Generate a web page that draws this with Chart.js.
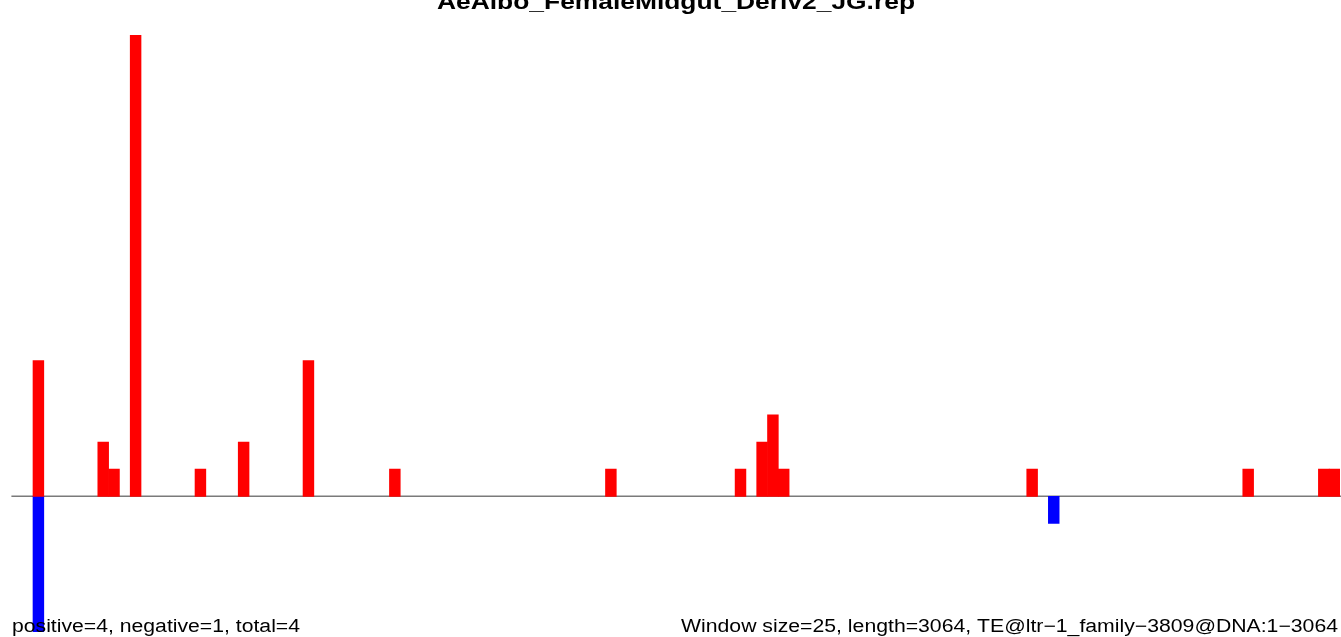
<!DOCTYPE html>
<html>
<head>
<meta charset="utf-8">
<script src="https://cdn.jsdelivr.net/npm/chart.js@4/dist/chart.umd.min.js"></script>
<style>
  html, body { margin: 0; padding: 0; background: #fff; }
  canvas { display: block; }
</style>
</head>
<body>
<canvas id="rep-chart" width="1341" height="637"></canvas>
<script>
// windows of 25 bp along a 3064 bp element
var windowSize = 25;
var seqLength = 3064;
var windowStarts = [];
for (var i = 0; i * windowSize < seqLength; i++) { windowStarts.push(i * windowSize + 1); }

// read counts per window (sense strand up, antisense strand down)
var positive = [
  0, 0, 5, 0, 0, 0, 0, 0, 2, 1,
  0, 17, 0, 0, 0, 0, 0, 1, 0, 0,
  0, 2, 0, 0, 0, 0, 0, 5, 0, 0,
  0, 0, 0, 0, 0, 1, 0, 0, 0, 0,
  0, 0, 0, 0, 0, 0, 0, 0, 0, 0,
  0, 0, 0, 0, 0, 1, 0, 0, 0, 0,
  0, 0, 0, 0, 0, 0, 0, 1, 0, 2,
  3, 1, 0, 0, 0, 0, 0, 0, 0, 0,
  0, 0, 0, 0, 0, 0, 0, 0, 0, 0,
  0, 0, 0, 0, 1, 0, 0, 0, 0, 0,
  0, 0, 0, 0, 0, 0, 0, 0, 0, 0,
  0, 0, 0, 0, 1, 0, 0, 0, 0, 0,
  0, 1, 1
];
var negative = [
  0, 0, -5, 0, 0, 0, 0, 0, 0, 0,
  0, 0, 0, 0, 0, 0, 0, 0, 0, 0,
  0, 0, 0, 0, 0, 0, 0, 0, 0, 0,
  0, 0, 0, 0, 0, 0, 0, 0, 0, 0,
  0, 0, 0, 0, 0, 0, 0, 0, 0, 0,
  0, 0, 0, 0, 0, 0, 0, 0, 0, 0,
  0, 0, 0, 0, 0, 0, 0, 0, 0, 0,
  0, 0, 0, 0, 0, 0, 0, 0, 0, 0,
  0, 0, 0, 0, 0, 0, 0, 0, 0, 0,
  0, 0, 0, 0, 0, 0, -1, 0, 0, 0,
  0, 0, 0, 0, 0, 0, 0, 0, 0, 0,
  0, 0, 0, 0, 0, 0, 0, 0, 0, 0,
  0, 0, 0
];

var titleText = "AeAlbo_FemaleMidgut_Deriv2_JG.rep";
var leftNote = "positive=4, negative=1, total=4";
var rightNote = "Window size=25, length=3064, TE@ltr\u22121_family\u22123809@DNA:1\u22123064";

// empty windows are left out so no zero-height sliver is drawn
function skipEmpty(arr) {
  return arr.map(function (v) { return v === 0 ? null : v; });
}

// draw a text stretched horizontally to fill a given width
function stretchText(ctx, txt, font, x0, x1, y) {
  ctx.save();
  ctx.font = font;
  var w = ctx.measureText(txt).width;
  ctx.translate(x0, y);
  ctx.scale((x1 - x0) / w, 1);
  ctx.textAlign = "left";
  ctx.textBaseline = "alphabetic";
  ctx.fillStyle = "#000";
  ctx.fillText(txt, 0, 0);
  ctx.restore();
}

var zeroLine = {
  id: "zeroLine",
  beforeDatasetsDraw: function (chart) {
    var ctx = chart.ctx;
    var y = chart.scales.y.getPixelForValue(0);
    ctx.save();
    ctx.strokeStyle = "#7a7a7a";
    ctx.lineWidth = 1.4;
    ctx.beginPath();
    ctx.moveTo(chart.chartArea.left, y);
    ctx.lineTo(chart.chartArea.right + 1, y);
    ctx.stroke();
    ctx.restore();
  }
};

var labels = {
  id: "labels",
  afterDraw: function (chart) {
    var ctx = chart.ctx;
    stretchText(ctx, titleText, "bold 22px 'Liberation Sans', Arial, sans-serif", 437, 915, 9);
    stretchText(ctx, leftNote, "18px 'Liberation Sans', Arial, sans-serif", 12, 300, 632);
    stretchText(ctx, rightNote, "18px 'Liberation Sans', Arial, sans-serif", 681, 1338, 632);
  }
};

var ctx = document.getElementById("rep-chart");

var repChart = new Chart(ctx, {
  type: "bar",
  data: {
    labels: windowStarts,
    datasets: [
      {
        label: "positive",
        data: skipEmpty(positive),
        backgroundColor: "#ff0000",
        borderWidth: 0,
        barPercentage: 1,
        categoryPercentage: 1
      },
      {
        label: "negative",
        data: skipEmpty(negative),
        backgroundColor: "#0000ff",
        borderWidth: 0,
        barPercentage: 1,
        categoryPercentage: 1
      }
    ]
  },
  options: {
    responsive: false,
    animation: false,
    devicePixelRatio: 1,
    layout: { padding: { left: 11.4, right: 1, top: 35, bottom: 5 } },
    plugins: {
      legend: { display: false },
      tooltip: { enabled: false },
      title: { display: false }
    },
    scales: {
      x: { stacked: true, display: false },
      y: { stacked: true, display: false, min: -5, max: 17 }
    }
  },
  plugins: [zeroLine, labels]
});
</script>
</body>
</html>
